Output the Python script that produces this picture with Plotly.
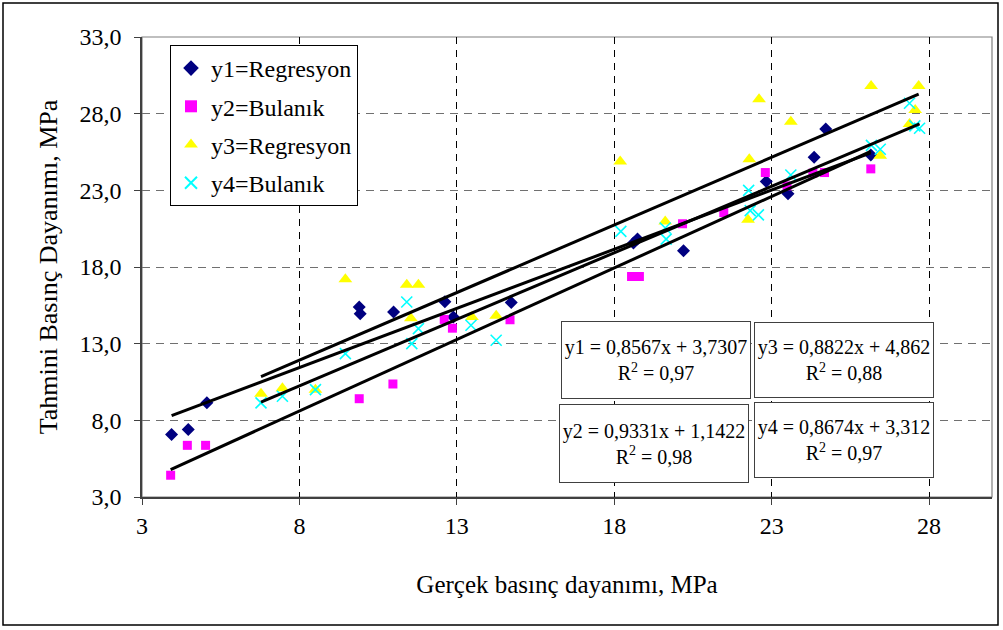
import plotly.graph_objects as go

# ---- data ----
x1 = [3.94, 4.47, 5.06, 9.90, 9.93, 10.99, 12.62, 12.89, 14.73, 18.61, 18.74, 20.20, 22.83, 23.52, 24.35, 24.72, 26.15]
y1 = [7.07, 7.40, 9.14, 15.39, 14.95, 15.07, 15.74, 14.74, 15.69, 19.56, 19.82, 19.06, 23.57, 22.77, 25.16, 27.00, 25.30]

x2 = [3.91, 4.44, 5.02, 9.90, 10.97, 12.60, 12.86, 14.69, 18.55, 18.80, 20.17, 21.48, 22.80, 23.49, 24.31, 24.68, 26.15]
y2 = [4.42, 6.37, 6.37, 9.41, 10.37, 14.58, 14.01, 14.56, 17.38, 17.38, 20.82, 21.55, 24.16, 23.29, 24.12, 24.16, 24.40]

x3 = [6.78, 7.46, 8.51, 9.46, 11.41, 11.78, 11.54, 13.48, 14.25, 18.19, 19.62, 22.25, 22.29, 22.60, 23.61, 26.16, 26.45, 27.38, 27.56, 27.67]
y3 = [9.74, 10.10, 10.00, 17.20, 16.84, 16.84, 14.65, 14.74, 14.82, 24.88, 20.97, 21.08, 25.03, 28.94, 27.48, 29.81, 25.25, 27.33, 28.24, 29.81]

x4 = [6.78, 7.46, 8.51, 9.46, 11.41, 11.78, 11.57, 13.45, 14.25, 18.21, 19.62, 19.65, 22.27, 22.32, 22.58, 23.61, 26.17, 26.45, 27.38, 27.55, 27.70]
y4 = [9.14, 9.57, 10.00, 12.35, 15.72, 13.98, 13.00, 14.20, 13.22, 20.32, 20.54, 19.82, 23.00, 21.68, 21.40, 24.00, 25.93, 25.68, 28.68, 27.20, 27.05]

series_names = ["y1=Regresyon", "y2=Bulanık", "y3=Regresyon", "y4=Bulanık"]

# trendlines as drawn in the chart (slope, intercept)
trend_slope = [0.772, 0.9331, 0.8822, 0.8674]
trend_intercept = [5.26, 1.1422, 4.862, 3.312]

equation_texts = [
    "y1 = 0,8567x + 3,7307<br>R<sup>2</sup> = 0,97",
    "y2 = 0,9331x + 1,1422<br>R<sup>2</sup> = 0,98",
    "y3 = 0,8822x + 4,862<br>R<sup>2</sup> = 0,88",
    "y4 = 0,8674x + 3,312<br>R<sup>2</sup> = 0,97",
]

x_ticks = [3, 8, 13, 18, 23, 28]
y_ticks = [3, 8, 13, 18, 23, 28, 33]

# ---- styling ----
FONT = "Liberation Serif"
xs = [x1, x2, x3, x4]
ys = [y1, y2, y3, y4]
marker_styles = [
    dict(symbol="diamond", size=10, color="#000080"),
    dict(symbol="square", size=9, color="#FF00FF"),
    dict(symbol="triangle-up", size=12, color="#FFFF00"),
    dict(symbol="x-thin", size=11, color="#00FFFF", line=dict(color="#00FFFF", width=1.6)),
]

fig = go.Figure()
for i in range(4):
    fig.add_trace(go.Scatter(
        x=xs[i], y=ys[i], mode="markers", name=series_names[i],
        marker=marker_styles[i], legendgroup=f"g{i}",
    ))

for i in range(4):
    xa, xb = min(xs[i]), max(xs[i])
    fig.add_trace(go.Scatter(
        x=[xa, xb],
        y=[trend_slope[i] * xa + trend_intercept[i], trend_slope[i] * xb + trend_intercept[i]],
        mode="lines", line=dict(color="black", width=3), showlegend=False, hoverinfo="skip",
    ))

# plot area geometry (px) used for paper-relative placements
L, R, T, B = 142, 11, 37, 133
W, H = 1003, 630
pw, ph = W - L - R, H - T - B

def px_to_paper(px, py):
    return (px - L) / pw, (H - B - py) / ph

box_centers = [(656, 360), (654, 443), (844, 360), (844, 440)]
box_sizes = [(184, 72), (184, 73), (174, 70), (174, 70)]
annotations = []
for i in range(4):
    xp, yp = px_to_paper(*box_centers[i])
    annotations.append(dict(
        x=xp, y=yp, xref="paper", yref="paper", xanchor="center", yanchor="middle",
        text=equation_texts[i], showarrow=False, align="center",
        font=dict(family=FONT, size=20, color="black"),
        bordercolor="#404040", borderwidth=1, borderpad=2, bgcolor="white",
        width=box_sizes[i][0], height=box_sizes[i][1],
    ))

fx0, fy1 = px_to_paper(3, 3)
fx1, fy0 = px_to_paper(998, 625)
shapes = [
    dict(type="rect", xref="paper", yref="paper", x0=0, x1=1, y0=0, y1=1,
         line=dict(color="#808080", width=1.2), layer="below"),
    dict(type="rect", xref="paper", yref="paper", x0=fx0, x1=fx1, y0=fy0, y1=fy1,
         line=dict(color="black", width=1.5)),
]

lx, ly = px_to_paper(170, 45)

fig.update_layout(
    width=W, height=H,
    margin=dict(l=L, r=R, t=T, b=B, pad=0),
    paper_bgcolor="white", plot_bgcolor="white",
    font=dict(family=FONT, size=24, color="black"),
    separators=", ",
    showlegend=True,
    legend=dict(
        x=lx, y=ly, xanchor="left", yanchor="top",
        bordercolor="black", borderwidth=1, bgcolor="white",
        tracegroupgap=4, font=dict(family=FONT, size=24, color="black"),
        itemsizing="constant",
    ),
    annotations=annotations,
    shapes=shapes,
    xaxis=dict(
        range=[3, 30], tickvals=x_ticks, ticks="outside", ticklen=6, tickcolor="#404040",
        showline=True, linecolor="#404040", linewidth=1.5,
        showgrid=True, gridcolor="black", gridwidth=1, griddash="7px,6px",
        zeroline=False, tickfont=dict(family=FONT, size=24, color="black"),
        title=dict(text="Gerçek basınç dayanımı, MPa", standoff=38,
                   font=dict(family=FONT, size=25, color="black")),
    ),
    yaxis=dict(
        range=[3, 33], tickvals=y_ticks, tickformat=".1f", ticks="outside", ticklen=6,
        tickcolor="#404040", showline=True, linecolor="#404040", linewidth=1.5,
        showgrid=True, gridcolor="#707070", gridwidth=1, griddash="8px,6px",
        zeroline=False, tickfont=dict(family=FONT, size=24, color="black"),
        ticklabelstandoff=8,
        title=dict(text="Tahmini Basınç Dayanımı, MPa", standoff=14,
                   font=dict(family=FONT, size=26, color="black")),
    ),
)

fig.write_html("out.html", config={"displayModeBar": False},
               post_script="document.body.style.margin='0';")
